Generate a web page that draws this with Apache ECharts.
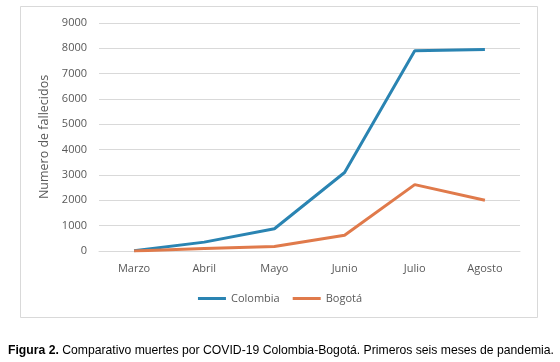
<!DOCTYPE html>
<html><head><meta charset="utf-8">
<script src="https://cdn.jsdelivr.net/npm/echarts@6/dist/echarts.min.js"></script>
<style>html,body{margin:0;padding:0;background:#fff}#c{width:560px;height:362px}</style>
</head><body><div id="c"></div>
<script>
const categories = ['Marzo','Abril','Mayo','Junio','Julio','Agosto'];
const colombia = [10, 350, 880, 3100, 7900, 7950];
const bogota = [0, 100, 180, 620, 2620, 2000];
const yTicks = {min: 0, max: 9000, interval: 1000};

const chart = echarts.init(document.getElementById('c'));
const axisFont = {fontFamily: 'Open Sans', fontSize: 11, color: '#595959'};
chart.setOption({
  animation: false,
  backgroundColor: '#fff',
  graphic: [{type: 'rect', shape: {x: 20.5, y: 6.5, width: 517, height: 311}, style: {fill: 'none', stroke: '#d9d9d9', lineWidth: 1}, silent: true}],
  title: {
    left: 3, top: 340,
    text: '{b|Figura 2.} Comparativo muertes por COVID-19 Colombia-Bogotá. Primeros seis meses de pandemia.',
    textStyle: {fontFamily: 'Liberation Sans', fontSize: 12.2, fontWeight: 'normal', color: '#000',
      rich: {b: {fontFamily: 'Liberation Sans', fontSize: 12.2, fontWeight: 'bold', color: '#000'}}}
  },
  grid: {left: 99, right: 40, top: 23, bottom: 111},
  legend: {
    top: 288, left: 'center', itemWidth: 28, itemHeight: 3, itemGap: 13, icon: 'rect',
    textStyle: {fontFamily: 'Open Sans', fontSize: 11, color: '#595959'},
    data: ['Colombia', 'Bogotá']
  },
  xAxis: {
    type: 'category', data: categories, boundaryGap: true,
    axisLine: {lineStyle: {color: '#d9d9d9'}}, axisTick: {show: false},
    axisLabel: Object.assign({margin: 12}, axisFont)
  },
  yAxis: {
    type: 'value', min: yTicks.min, max: yTicks.max, interval: yTicks.interval,
    name: 'Numero de fallecidos', nameLocation: 'middle', nameGap: 41,
    nameTextStyle: {fontFamily: 'Open Sans', fontSize: 12.5, color: '#595959'},
    axisLine: {show: false}, axisTick: {show: false},
    axisLabel: Object.assign({margin: 12, formatter: v => String(v)}, axisFont),
    splitLine: {lineStyle: {color: '#d9d9d9'}}
  },
  series: [
    {name: 'Colombia', type: 'line', data: colombia, showSymbol: false, symbol: 'none',
     lineStyle: {color: '#2A84B2', width: 3}, itemStyle: {color: '#2A84B2'}},
    {name: 'Bogotá', type: 'line', data: bogota, showSymbol: false, symbol: 'none',
     lineStyle: {color: '#E07A4B', width: 3}, itemStyle: {color: '#E07A4B'}}
  ]
});
</script></body></html>
